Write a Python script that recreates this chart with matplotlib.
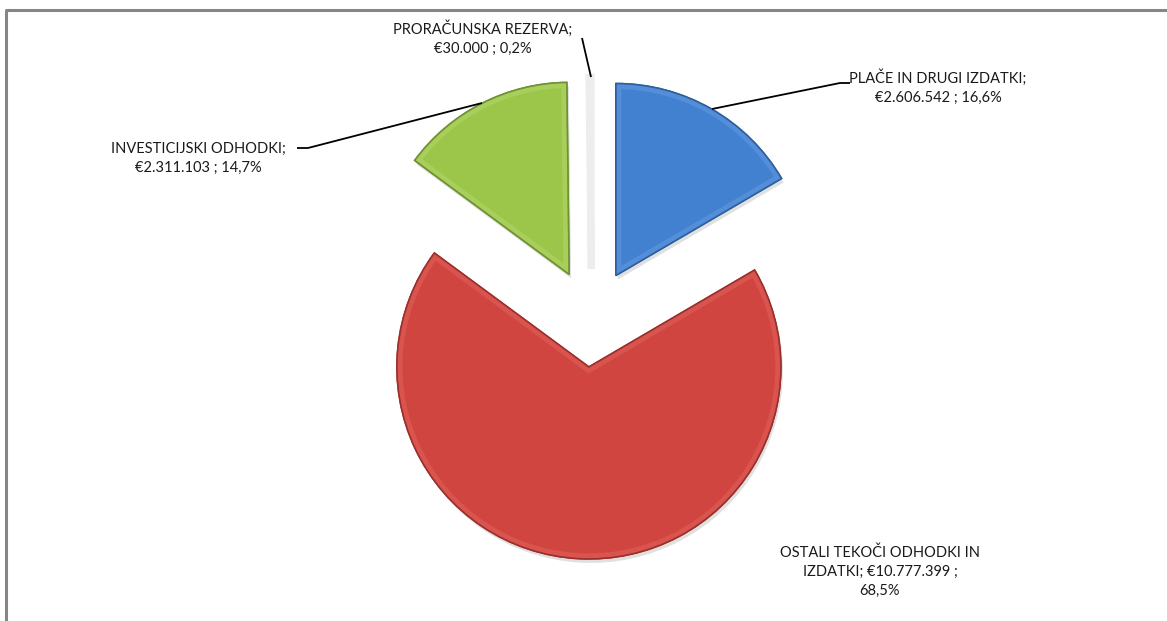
import textwrap
import matplotlib
matplotlib.use("Agg")
import matplotlib.pyplot as plt
from matplotlib.patches import Wedge

names = ["PLAČE IN DRUGI IZDATKI", "OSTALI TEKOČI ODHODKI IN IZDATKI",
         "INVESTICIJSKI ODHODKI", "PRORAČUNSKA REZERVA"]
values = [2606542, 10777399, 2311103, 30000]
colors = ["#4280d0", "#d0453f", "#9cc64a", "#efefef"]
edges = ["#2d5f9e", "#9c2f2b", "#6f9230", "#ededed"]
bevels = ["#7fb0ee", "#f07a74", "#c4e486", "#f6f6f6"]
wrap_widths = [24, 24, 22, 21]

W, H = 1167, 621
plt.rcParams['font.family'] = ['Lato', 'DejaVu Sans']

fig = plt.figure(figsize=(W / 100, H / 100), dpi=100)
ax = fig.add_axes([0, 0, 1, 1])

def py(y):
    # pixel row -> data y
    return H - y

cx, cy = 591.5, py(318)
r = 192
expl = [49] * len(values)

# soft shadow under the slices
ax.pie(values, explode=expl, center=(cx + 2, cy - 4), radius=r,
       startangle=90, counterclock=False, colors=["#000000"] * len(values),
       wedgeprops=dict(linewidth=0, alpha=0.12))
wedges, _ = ax.pie(values, explode=expl, center=(cx, cy), radius=r,
                   startangle=90, counterclock=False, colors=colors,
                   wedgeprops=dict(linewidth=1.2))
for w, ec, bc in zip(wedges, edges, bevels):
    w.set_edgecolor(ec)
    # light bevel along the inside of the edge
    bev = Wedge(w.center, w.r, w.theta1, w.theta2, facecolor="none",
                edgecolor=bc, lw=8, alpha=0.3)
    ax.add_patch(bev)
    bev.set_clip_path(w)
    w.set_zorder(1)
    bev.set_zorder(1.1)
    outline = Wedge(w.center, w.r, w.theta1, w.theta2, facecolor="none",
                    edgecolor=ec, lw=1.0, zorder=1.2)
    ax.add_patch(outline)

# the tiny slice shows as a pale strip
wedges[3].set_linewidth(5)

total = sum(values)
labels = []
for n, v, ww in zip(names, values, wrap_widths):
    pct = f"{100 * v / total:.1f}".replace(".", ",")
    s = f"{n}; €{v:,}".replace(",", ".") + f" ; {pct}%"
    labels.append(textwrap.fill(s, width=ww))

# label positions (pixels) and leader lines
label_pos = [(938, 87), (880, 572), (198, 158), (483, 38)]
leaders = [
    [(712, 109), (840, 83), (850, 83)],
    None,
    [(482, 103), (308, 148), (297, 148)],
    [(591, 77), (582, 38)],
]
for lab, (lx, ly), ld in zip(labels, label_pos, leaders):
    ax.text(lx, py(ly), lab, ha="center", va="center", fontsize=10.5,
            color="#1a1a1a", linespacing=1.45)
    if ld:
        ax.plot([p[0] for p in ld], [py(p[1]) for p in ld],
                color="black", lw=1.3, solid_capstyle="butt")

# chart border (top and left visible)
ax.plot([6, 6, W + 5], [-5, py(10), py(10)], color="#868686", lw=2.2)

ax.set_xlim(0, W)
ax.set_ylim(0, H)
ax.set_aspect("equal")
ax.axis("off")

fig.savefig("out.png", dpi=100, facecolor="white")
